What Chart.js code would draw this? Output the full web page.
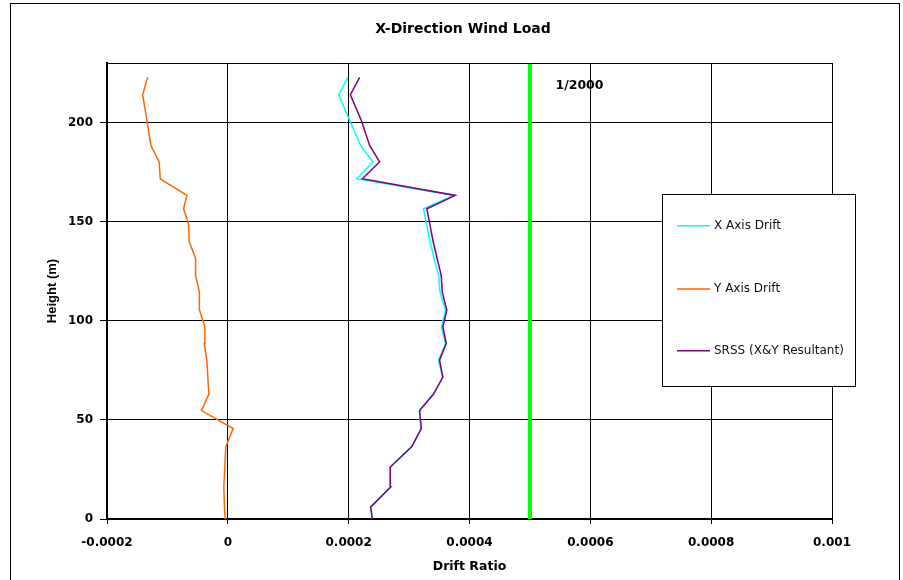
<!DOCTYPE html>
<html><head><meta charset="utf-8">
<style>html,body{margin:0;padding:0;background:#fff;}#wrap{width:903px;height:580px;position:relative;}</style>
<script src="https://cdn.jsdelivr.net/npm/chart.js@4.4.0/dist/chart.umd.min.js"></script>
</head><body><div id="wrap"><canvas id="c" width="903" height="580"></canvas></div>
<script>
// ---- data ----
const heights = [0, 6.0, 16.1, 26.2, 36.5, 45.6, 54.7, 63.0, 71.5, 80.1, 88.5, 97.0, 105.3, 114.4, 122.9, 131.5, 140.1, 148.6, 156.5, 163.2, 171.6, 180.1, 188.4, 201.0, 214.0, 222.8];
const xDrift = [0.000239, 0.0002362, 0.0002693, 0.0002688, 0.0003044, 0.00032, 0.0003171, 0.0003405, 0.0003554, 0.0003488, 0.0003603, 0.0003537, 0.0003603, 0.0003512, 0.0003488, 0.0003413, 0.0003347, 0.0003289, 0.000324, 0.000374, 0.0002137, 0.0002402, 0.0002198, 0.0002017, 0.0001835, 0.0001988];
const yDrift = [-0.0000045, -0.0000055, -0.0000066, -0.000005, -0.0000033, 0.0000088, -0.0000435, -0.0000314, -0.0000331, -0.0000347, -0.0000392, -0.000038, -0.0000468, -0.0000471, -0.0000534, -0.0000534, -0.000064, -0.000065, -0.0000732, -0.0000678, -0.0001119, -0.0001136, -0.0001273, -0.0001339, -0.000141, -0.0001327];
const srssDrift = [0.0002392, 0.0002364, 0.0002694, 0.0002689, 0.0003046, 0.0003202, 0.0003174, 0.0003405, 0.0003559, 0.0003504, 0.0003615, 0.0003559, 0.0003625, 0.0003549, 0.0003532, 0.0003463, 0.0003397, 0.0003344, 0.0003294, 0.0003764, 0.0002226, 0.0002512, 0.0002347, 0.000221, 0.0002028, 0.0002182];
const seriesNames = ['X Axis Drift', 'Y Axis Drift', 'SRSS (X&Y Resultant)'];
const limitValue = 0.0005;
const limitHeights = [0, 230];
const limitLabel = '1/2000';
const limitLabelPos = [0.000582, 218.5];
const xTicks = [-0.0002, 0, 0.0002, 0.0004, 0.0006, 0.0008, 0.001];
const yTicks = [0, 50, 100, 150, 200];
const xMin = -0.0002, xMax = 0.001, yMin = 0, yMax = 230;
const chartTitle = 'X-Direction Wind Load';
const xTitle = 'Drift Ratio';
const yTitle = 'Height (m)';

const colors = ['#00FFFF', '#FF6600', '#800080'];
const toPts = arr => arr.map((v, i) => ({x: v, y: heights[i]}));

const framePlugin = {
  id: 'frame',
  beforeDraw(chart) {
    const ctx = chart.ctx;
    ctx.save();
    ctx.fillStyle = '#fff';
    ctx.fillRect(0, 0, chart.width, chart.height);
    ctx.strokeStyle = '#000';
    ctx.lineWidth = 1;
    ctx.strokeRect(10.5, 3.5, 889, 600);
    ctx.fillStyle = '#000';
    ctx.font = 'bold 14px "DejaVu Sans"';
    ctx.textAlign = 'center';
    ctx.textBaseline = 'middle';
    ctx.fillText(chartTitle, 463, 29);
    ctx.restore();
  },
  afterDatasetsDraw(chart) {
    const ctx = chart.ctx;
    const a = chart.chartArea;
    const xs = chart.scales.x, ys = chart.scales.y;
    ctx.save();
    ctx.strokeStyle = '#000';
    ctx.lineWidth = 1;
    ctx.beginPath();
    ctx.moveTo(a.left, Math.round(a.top) + 0.5);
    ctx.lineTo(a.right, Math.round(a.top) + 0.5);
    ctx.moveTo(Math.round(a.right) + 0.5, a.top);
    ctx.lineTo(Math.round(a.right) + 0.5, a.bottom);
    ctx.stroke();
    // limit label
    ctx.fillStyle = '#000';
    ctx.font = 'bold 12.5px "DejaVu Sans"';
    ctx.textAlign = 'center';
    ctx.textBaseline = 'middle';
    ctx.fillText(limitLabel, xs.getPixelForValue(limitLabelPos[0]), ys.getPixelForValue(limitLabelPos[1]));
    // legend
    const bx = 662.5, by = 194.5, bw = 193, bh = 192;
    ctx.fillStyle = '#fff';
    ctx.fillRect(bx, by, bw, bh);
    ctx.strokeRect(bx, by, bw, bh);
    const rows = [225.7, 289, 350.7];
    ctx.font = '12px "DejaVu Sans"';
    ctx.textAlign = 'left';
    seriesNames.forEach((n, i) => {
      ctx.strokeStyle = colors[i];
      ctx.lineWidth = 1.6;
      ctx.beginPath();
      ctx.moveTo(677, rows[i]);
      ctx.lineTo(710, rows[i]);
      ctx.stroke();
      ctx.fillStyle = '#111';
      ctx.fillText(n, 714, rows[i]);
    });
    ctx.restore();
  }
};

const fmt = v => String(Number(Number(v).toFixed(6)));

new Chart(document.getElementById('c'), {
  type: 'line',
  data: {
    datasets: [
      {label: seriesNames[0], data: toPts(xDrift), borderColor: colors[0], borderWidth: 1.5, pointRadius: 0, tension: 0, fill: false, order: 2},
      {label: seriesNames[1], data: toPts(yDrift), borderColor: colors[1], borderWidth: 1.5, pointRadius: 0, tension: 0, fill: false, order: 1},
      {label: seriesNames[2], data: toPts(srssDrift), borderColor: colors[2], borderWidth: 1.5, pointRadius: 0, tension: 0, fill: false, order: 0},
      {label: 'limit', data: limitHeights.map(h => ({x: limitValue, y: h})), borderColor: '#00FF00', borderWidth: 4, pointRadius: 0, fill: false, order: 3}
    ]
  },
  options: {
    responsive: false,
    devicePixelRatio: 1,
    animation: false,
    layout: {padding: {top: 63, left: 10, right: 71, bottom: 0}},
    plugins: {legend: {display: false}, title: {display: false}, tooltip: {enabled: false}},
    scales: {
      x: {
        type: 'linear', min: xMin, max: xMax,
        afterBuildTicks: s => { s.ticks = xTicks.map(v => ({value: v})); },
        afterFit: s => { s.height = 61; },
        grid: {color: '#000', lineWidth: 1, tickLength: 5, tickColor: '#000'},
        border: {display: true, color: '#000', width: 2},
        ticks: {callback: v => fmt(v), color: '#000', padding: 12, maxRotation: 0, autoSkip: false, font: {family: '"DejaVu Sans"', size: 12, weight: 'bold'}},
        title: {display: true, text: xTitle, color: '#000', padding: {top: 0, bottom: 6}, font: {family: '"DejaVu Sans"', size: 12.5, weight: 'bold'}}
      },
      y: {
        type: 'linear', min: yMin, max: yMax,
        afterBuildTicks: s => { s.ticks = yTicks.map(v => ({value: v})); },
        afterFit: s => { s.width = 97; },
        grid: {color: '#000', lineWidth: 1, tickLength: 7, tickColor: '#000'},
        border: {display: true, color: '#000', width: 2},
        ticks: {callback: v => fmt(v), color: '#000', padding: 7, autoSkip: false, font: {family: '"DejaVu Sans"', size: 12, weight: 'bold'}},
        title: {display: true, text: yTitle, color: '#000', padding: {top: 35, bottom: 0}, font: {family: '"Liberation Sans"', size: 13, weight: 'bold'}}
      }
    }
  },
  plugins: [framePlugin]
});
</script>
</body></html>
